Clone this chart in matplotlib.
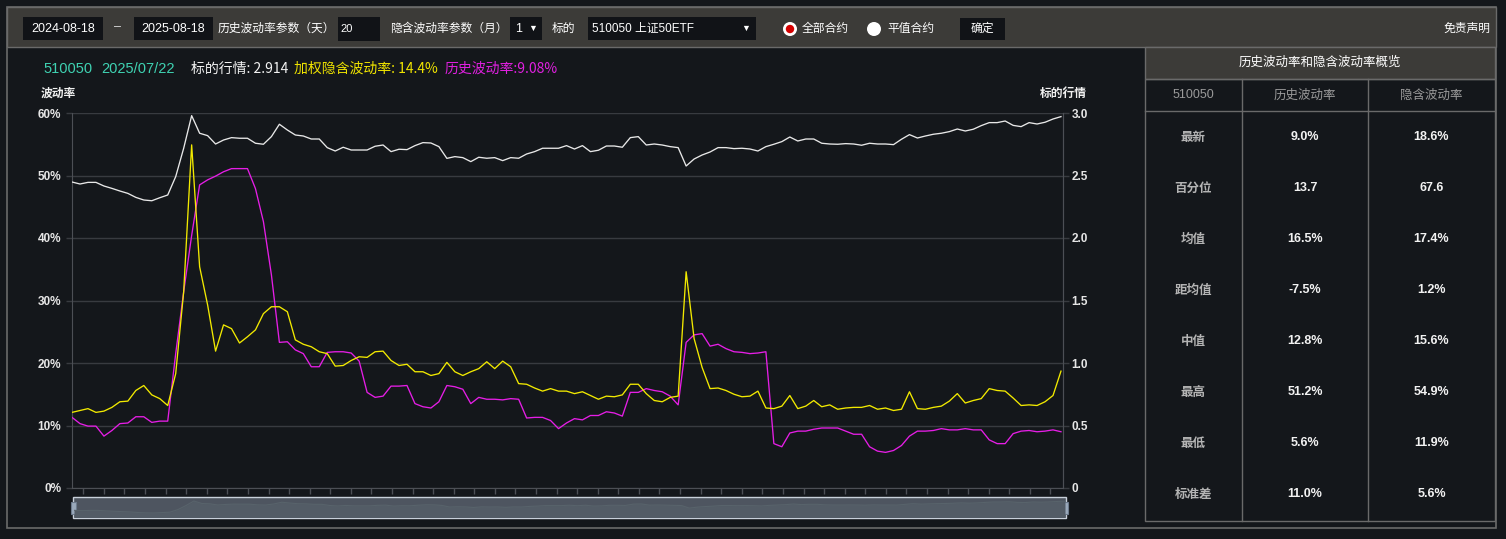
import matplotlib
matplotlib.use("Agg")
import matplotlib.pyplot as plt
import matplotlib.patches as mpatches
import numpy as np

# 510050 close (about one point every two trading days)
price = [2.448, 2.432, 2.445, 2.445, 2.416, 2.397, 2.376, 2.357, 2.325, 2.304, 2.298, 2.322, 2.344,
         2.491, 2.718, 2.979, 2.838, 2.819, 2.752, 2.784, 2.803, 2.798, 2.798, 2.758, 2.750,
         2.811, 2.910, 2.864, 2.824, 2.816, 2.792, 2.792, 2.723, 2.696, 2.726, 2.704, 2.704,
         2.704, 2.734, 2.744, 2.691, 2.710, 2.707, 2.739, 2.763, 2.760, 2.731, 2.637, 2.651,
         2.643, 2.611, 2.646, 2.638, 2.643, 2.619, 2.643, 2.638, 2.672, 2.691, 2.718, 2.718,
         2.718, 2.739, 2.712, 2.739, 2.691, 2.702, 2.736, 2.736, 2.726, 2.803, 2.811, 2.744,
         2.752, 2.744, 2.731, 2.723, 2.576, 2.632, 2.664, 2.688, 2.723, 2.723, 2.715, 2.718,
         2.712, 2.696, 2.731, 2.750, 2.771, 2.808, 2.776, 2.792, 2.792, 2.758, 2.752, 2.750, 2.755,
         2.752, 2.742, 2.758, 2.752, 2.752, 2.747, 2.790, 2.827, 2.800, 2.816, 2.830, 2.838,
         2.851, 2.872, 2.856, 2.870, 2.899, 2.923, 2.923, 2.936, 2.901, 2.891, 2.923, 2.912,
         2.926, 2.952, 2.971]

# weighted implied volatility (%)
iv = [12.1, 12.4, 12.7, 12.1, 12.3, 12.9, 13.8, 13.9, 15.6, 16.4, 14.9, 14.3, 13.2,
      18.3, 31.4, 54.9, 35.4, 29.3, 21.9, 26.1, 25.5, 23.2, 24.2, 25.3, 27.9,
      29.0, 29.0, 28.2, 23.7, 23.0, 22.6, 21.8, 21.5, 19.5, 19.6, 20.4, 21.0,
      20.9, 21.8, 21.9, 20.4, 19.6, 19.8, 18.6, 18.6, 18.0, 18.3, 20.1, 18.6,
      18.0, 18.6, 19.1, 20.2, 19.1, 20.3, 19.4, 16.7, 16.6, 16.0, 15.5, 15.9,
      15.5, 15.5, 15.1, 15.4, 14.8, 14.2, 14.7, 14.6, 14.9, 16.6, 16.6, 15.1,
      14.0, 13.8, 14.5, 14.7, 34.6, 23.9, 19.3, 15.9, 16.0, 15.6, 15.0, 14.6,
      14.7, 15.5, 12.8, 12.7, 13.1, 14.8, 12.7, 13.1, 14.0, 13.0, 13.3, 12.6, 12.8,
      12.9, 12.9, 13.2, 12.6, 12.8, 12.4, 12.6, 15.4, 12.7, 12.6, 12.9, 13.1,
      13.9, 15.1, 13.6, 14.0, 14.3, 15.9, 15.6, 15.5, 14.4, 13.2, 13.3, 13.2,
      13.8, 14.8, 18.7]

# 20-day historical volatility (%)
hv = [11.3, 10.3, 9.9, 9.9, 8.3, 9.2, 10.3, 10.4, 11.4, 11.4, 10.5, 10.7, 10.7,
      21.5, 31.4, 40.4, 48.5, 49.3, 49.9, 50.6, 51.1, 51.1, 51.1, 47.9, 42.6,
      34.1, 23.3, 23.4, 22.1, 21.5, 19.4, 19.4, 21.7, 21.8, 21.8, 21.6, 20.3,
      15.3, 14.5, 14.7, 16.3, 16.3, 16.4, 13.5, 13.0, 12.8, 13.8, 16.4, 16.2,
      15.8, 13.5, 14.5, 14.2, 14.2, 14.1, 14.3, 14.2, 11.2, 11.3, 11.3, 10.8,
      9.5, 10.4, 11.1, 10.9, 11.6, 11.6, 12.2, 12.0, 11.5, 15.3, 15.3, 15.9,
      15.6, 15.4, 14.7, 13.3, 23.3, 24.5, 24.7, 22.7, 23.0, 22.3, 21.8, 21.7,
      21.5, 21.6, 21.8, 7.1, 6.6, 8.8, 9.1, 9.1, 9.4, 9.6, 9.6, 9.6, 9.1,
      8.6, 8.6, 6.6, 5.9, 5.7, 6.0, 6.8, 8.3, 9.1, 9.1, 9.2, 9.5,
      9.3, 9.3, 9.5, 9.3, 9.3, 7.7, 7.1, 7.1, 8.7, 9.1, 9.2, 9.0,
      9.1, 9.3, 9.0]

vol_ticks = [0, 10, 20, 30, 40, 50, 60]
price_ticks = [0, 0.5, 1.0, 1.5, 2.0, 2.5, 3.0]

row_names = ["最新", "百分位", "均值", "距均值", "中值", "最高", "最低", "标准差"]
hv_stats = ["9.0%", "13.7", "16.5%", "-7.5%", "12.8%", "51.2%", "5.6%", "11.0%"]
iv_stats = ["18.6%", "67.6", "17.4%", "1.2%", "15.6%", "54.9%", "11.9%", "5.6%"]

W, H = 1506, 539
BG = "#14171b"
BAR = "#3c3b38"
BOX = "#111317"
FRAME = "#6a6a6a"
GRID = "#383b40"
AXC = "#4c4f55"
CN = ["Noto Sans CJK SC", "DejaVu Sans"]
NUM = ["Liberation Sans", "Noto Sans CJK SC", "DejaVu Sans"]

fig = plt.figure(figsize=(W / 100, H / 100), dpi=100, facecolor=BG)

# --- page furniture drawn in pixel coordinates ---
ui = fig.add_axes([0, 0, 1, 1])
ui.set_xlim(0, W)
ui.set_ylim(H, 0)
ui.axis("off")


def box(x0, y0, x1, y1, fc, ec="none", lw=1.0, z=1):
    ui.add_patch(mpatches.Rectangle((x0, y0), x1 - x0, y1 - y0, facecolor=fc,
                                    edgecolor=ec, linewidth=lw, zorder=z))


def txt(x, y, s, color="white", size=9, ha="left", weight="normal", family=CN):
    ui.text(x, y, s, color=color, fontsize=size, ha=ha, va="center",
            fontweight=weight, family=family, zorder=5)


box(7, 7, 1496, 528, "none", FRAME, 1.2)
box(7, 7, 1496, 47, BAR, FRAME, 1.0)

# toolbar
box(23, 17, 103, 40, BOX)
txt(63, 28.5, "2024-08-18", size=9, ha="center", family=NUM)
txt(118, 27, "–", color="#dddddd", size=9, ha="center", family=NUM)
box(134, 17, 213, 40, BOX)
txt(173, 28.5, "2025-08-18", size=9, ha="center", family=NUM)
txt(218, 28.5, "历史波动率参数（天）", size=8.5)
box(338, 17, 380, 41, BOX)
txt(340, 29, "20", size=8, family=NUM)
txt(390, 28.5, "隐含波动率参数（月）", size=8.5)
box(510, 17, 542, 40, BOX)
txt(515, 28.5, "1", size=9, family=NUM)
txt(533, 28, "▼", size=6.5, ha="center", family=NUM)
txt(552, 28.5, "标的", size=8.5)
box(588, 17, 756, 40, BOX)
txt(592, 28.5, "510050 上证50ETF", size=8.5, family=NUM)
txt(746, 28, "▼", size=6.5, ha="center", family=NUM)
ui.add_patch(mpatches.Circle((790, 29), 7, facecolor="white", edgecolor="none", zorder=3))
ui.add_patch(mpatches.Circle((790, 29), 4.2, facecolor="#d40000", edgecolor="none", zorder=4))
txt(802, 28.5, "全部合约", size=8.5)
ui.add_patch(mpatches.Circle((874, 29), 7, facecolor="white", edgecolor="none", zorder=3))
txt(887, 28.5, "平值合约", size=8.5)
box(960, 18, 1005, 40, BOX)
txt(982.5, 28.5, "确定", size=8.5, ha="center")
txt(1490, 28, "免责声明", size=8.5, ha="right")

# chart header line
txt(43, 69, "510050", color="#3fd2b2", size=10.5, family=NUM)
txt(101, 69, "2025/07/22", color="#3fd2b2", size=10.5, family=NUM)
txt(191, 69, "标的行情: 2.914", color="#f2f2f2", size=10)
txt(294, 69, "加权隐含波动率: 14.4%", color="#f0e400", size=10)
txt(445, 69, "历史波动率:9.08%", color="#e020e0", size=10)
txt(41, 93, "波动率", color="#f0f0f0", size=8.5, weight="bold")
txt(1087, 93, "标的行情", color="#f0f0f0", size=8.5, weight="bold", ha="right")

# slider under the chart
box(73, 497, 1066, 518, "#4e5560", "#c8d0da", 1.0, z=1)
box(71, 502, 76.5, 514, "#9aa9bb", "#6d7b8d", 0.8, z=3)
box(1062.5, 502, 1068, 514, "#9aa9bb", "#6d7b8d", 0.8, z=3)

# summary table
TX0, TX1, TX2, TX3 = 1145, 1242, 1368, 1495
box(TX0, 47, TX3, 79, BAR, FRAME, 1.0)
box(TX0, 79, TX3, 521, "none", FRAME, 1.0)
ui.plot([TX0, TX3], [111, 111], color=FRAME, lw=1.0, zorder=2)
for xc in (TX1, TX2):
    ui.plot([xc, xc], [79, 521], color=FRAME, lw=1.0, zorder=2)
cx = [(TX0 + TX1) / 2, (TX1 + TX2) / 2, (TX2 + TX3) / 2]
txt((TX0 + TX3) / 2, 62, "历史波动率和隐含波动率概览", size=9, ha="center")
txt(cx[0], 95, "510050", color="#9a9a9a", size=9, ha="center", family=NUM)
txt(cx[1], 95, "历史波动率", color="#9a9a9a", size=9, ha="center")
txt(cx[2], 95, "隐含波动率", color="#9a9a9a", size=9, ha="center")
for i, name in enumerate(row_names):
    yy = 137 + 51 * i
    txt(cx[0], yy, name, color="#b4b4b4", size=9, ha="center", weight="bold")
    txt(cx[1], yy, hv_stats[i], color="#f2f2f2", size=9, ha="center", weight="bold", family=NUM)
    txt(cx[2], yy, iv_stats[i], color="#f2f2f2", size=9, ha="center", weight="bold", family=NUM)

# --- main chart ---
x = np.arange(len(price))
L, R, B, T = 71.7, 1063.3, 488, 113
ax = fig.add_axes([L / W, 1 - B / H, (R - L) / W, (B - T) / H], facecolor="none")
ax.plot(x, hv, color="#e61ee6", lw=0.95, zorder=3)
ax.plot(x, iv, color="#f2ea00", lw=0.95, zorder=4)
ax.set_xlim(-0.04, len(x) - 1 + 0.29)
ax.set_ylim(0, 60)
ax.set_yticks(vol_ticks)
ax.set_yticklabels([f"{v}%" for v in vol_ticks])
ax.set_xticks(np.arange(1.42, len(x), 2.58))
ax.set_xticklabels([])
ax.grid(axis="y", color=GRID, lw=1.0)
ax.set_axisbelow(True)
ax.tick_params(axis="y", length=4, width=1, color=GRID, pad=3.5, labelcolor="#e6e6e6", labelsize=8.5)
ax.tick_params(axis="x", length=4, width=1, color=AXC)
for lab in ax.get_yticklabels():
    lab.set_fontweight("bold")
    lab.set_family(NUM)
for s in ("left", "bottom", "right"):
    ax.spines[s].set_color(AXC)
ax.spines["top"].set_visible(False)

ax2 = ax.twinx()
ax2.plot(x, price, color="#e8e8e8", lw=0.95)
ax2.set_ylim(0, 3)
ax2.set_yticks(price_ticks)
ax2.set_yticklabels(["0" if p == 0 else f"{p:.1f}" for p in price_ticks])
ax2.tick_params(axis="y", length=4, width=1, color=GRID, pad=2, labelcolor="#e6e6e6", labelsize=8.5)
for lab in ax2.get_yticklabels():
    lab.set_fontweight("bold")
    lab.set_family(NUM)
for s in ("left", "top", "bottom"):
    ax2.spines[s].set_visible(False)
ax2.spines["right"].set_color(AXC)

# faint price silhouette inside the slider
sl = fig.add_axes([74 / W, 1 - 517 / H, (1065 - 74) / W, 19 / H], facecolor="none")
sl.fill_between(x, price, 0, color="#535c66", lw=0)
sl.plot(x, price, color="#58636b", lw=0.8)
sl.set_xlim(0, len(x) - 1)
sl.set_ylim(2.07, 3.15)
sl.axis("off")

fig.savefig("out.png", dpi=100, facecolor=BG)
